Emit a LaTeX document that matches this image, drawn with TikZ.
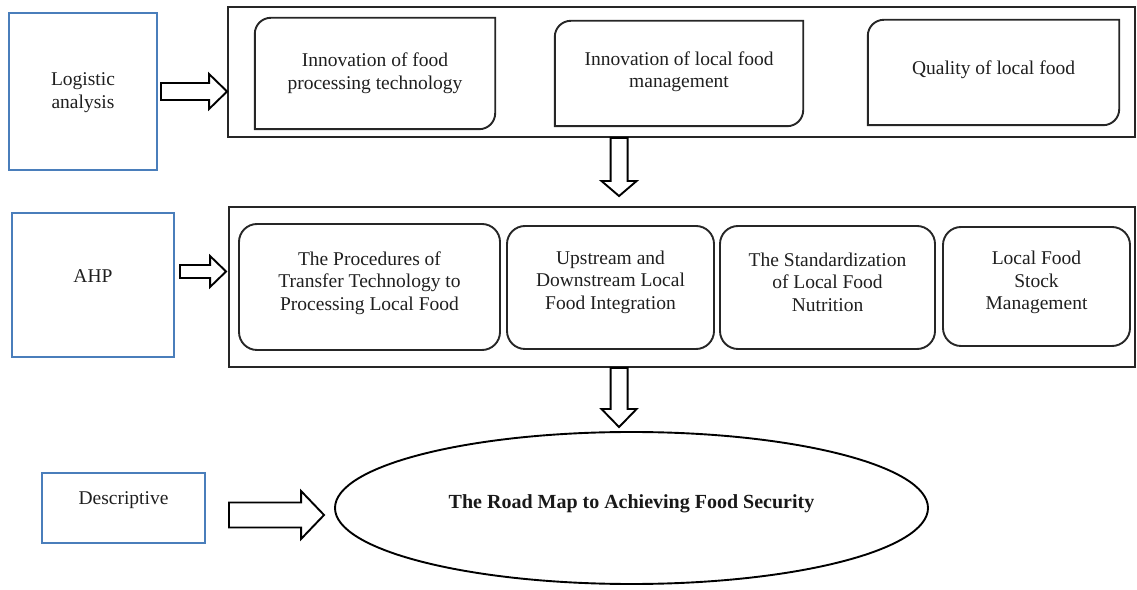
\documentclass[tikz,border=0pt]{standalone}
\usepackage{fontspec}
\setmainfont{Liberation Serif}
\usetikzlibrary{shapes.geometric,calc}
\definecolor{boxblue}{RGB}{74,126,187}
\newcommand{\blkarrowH}[5]{%
  \draw[blockline] let \p1=(#1), \p2=(#2) in
    (\x1,\y1+#3) -- (\x2-#5,\y1+#3) -- (\x2-#5,\y1+#4) -- (\x2,\y1)
    -- (\x2-#5,\y1-#4) -- (\x2-#5,\y1-#3) -- (\x1,\y1-#3) -- cycle;}
\newcommand{\blkarrowV}[5]{%
  \draw[blockline] let \p1=(#1), \p2=(#2) in
    (\x1-#3,\y1) -- (\x1-#3,\y2+#5) -- (\x1-#4,\y2+#5) -- (\x1,\y2)
    -- (\x1+#4,\y2+#5) -- (\x1+#3,\y2+#5) -- (\x1+#3,\y1) -- cycle;}
\begin{document}
\begin{tikzpicture}[x=1pt,y=1pt,
  bluebox/.style={draw=boxblue,line width=1.9pt,inner sep=0pt},
  outerbox/.style={draw=black!85,line width=1.9pt,inner sep=0pt},
  plainshape/.style={draw=none,inner sep=0pt},
  roundbox/.style={draw=black!85,line width=1.9pt,rounded corners=18pt,inner sep=0pt},
  txt/.style={align=center,font=\fontsize{19.5}{22.5}\selectfont,text=black!88,inner sep=0pt},
  boldtxt/.style={font=\fontsize{20}{24}\selectfont\bfseries,text=black!90,inner sep=0pt},
  blockline/.style={draw=black,fill=white,line width=1.9pt,line join=miter},
  edgeline/.style={draw=black!85,line width=1.9pt}]
\useasboundingbox (0,0) rectangle (1137,589);

% ---- row 1
\node[bluebox,minimum width=148,minimum height=157] (log) at (83,497.5) {};
\node[txt] (logt) at (83,496.5) {Logistic\\analysis};
\node[outerbox,minimum width=907,minimum height=130] (top) at (681.5,517) {};
\node[plainshape,minimum width=240,minimum height=111] (b1) at (375,515.5) {};
\node[txt] (b1t) at (375,516) {Innovation of food\\processing technology};
\node[plainshape,minimum width=248,minimum height=105] (b2) at (679,515.5) {};
\node[txt] (b2t) at (679,517.5) {Innovation of local food\\management};
\node[plainshape,minimum width=251,minimum height=105] (b3) at (993.5,516.5) {};
\node[txt] (b3t) at (993.5,519) {Quality of local food};
\foreach \b in {b1,b2,b3}
  \draw[edgeline] (\b.south west) -- ($(\b.north west)+(0,-16)$)
    arc[start angle=180,end angle=90,radius=16] -- (\b.north east)
    -- ($(\b.south east)+(0,16)$) arc[start angle=0,end angle=-90,radius=16] -- cycle;

% ---- row 2
\node[outerbox,minimum width=906,minimum height=160] (mid) at (682,302) {};
\node[bluebox,minimum width=162,minimum height=144] (ahp) at (93,304) {};
\node[txt] (ahpt) at (93,313) {AHP};
\node[roundbox,minimum width=261,minimum height=126] (ba) at (369.5,302) {};
\node[txt] (bat) at (369.5,306) {The Procedures of\\Transfer Technology to\\Processing Local Food};
\node[roundbox,minimum width=207,minimum height=123] (bb) at (610.5,301.5) {};
\node[txt] (bbt) at (610.5,307) {Upstream and\\Downstream Local\\Food Integration};
\node[roundbox,minimum width=215,minimum height=123] (bc) at (827.5,301.5) {};
\node[txt] (bct) at (827.5,307) {The Standardization\\of Local Food\\Nutrition};
\node[roundbox,minimum width=187,minimum height=119] (bd) at (1036.5,302.5) {};
\node[txt] (bdt) at (1036.5,306.5) {Local Food\\Stock\\Management};

% ---- row 3
\node[bluebox,minimum width=163,minimum height=70] (desc) at (123.5,81) {};
\node[txt] (desct) at (123.5,89) {Descriptive};
\node[ellipse,draw=black,line width=1.9pt,minimum width=593,minimum height=152,inner sep=0pt] (ell) at (631.5,81) {};
\node[boldtxt] (ellt) at (631.5,85) {The Road Map to Achieving Food Security};

% ---- block arrows
\coordinate (a1s) at ($(log.east)+(3,0)$);
\coordinate (a1t) at (top.west |- a1s);
\blkarrowH{a1s}{a1t}{8.5pt}{17.5pt}{18pt}

\coordinate (a2s) at ($(ahp.east)+(5,13.5)$);
\coordinate (a2t) at ($(mid.west |- a2s)+(-2,0)$);
\blkarrowH{a2s}{a2t}{6.5pt}{15.5pt}{16pt}

\coordinate (a3s) at ($(desc.east)+(23,-7)$);
\coordinate (a3t) at ($(ell.west)+(-10,-7)$);
\blkarrowH{a3s}{a3t}{12.5pt}{24pt}{23pt}

\coordinate (d1s) at ($(top.south west)+(392,0)$);
\coordinate (d1t) at ($(mid.north west)+(391,10)$);
\blkarrowV{d1s}{d1t}{8.5pt}{17.5pt}{15pt}

\coordinate (d2s) at ($(mid.south west)+(391,0)$);
\coordinate (d2t) at ($(ell.north)+(-11.5,4)$);
\blkarrowV{d2s}{d2t}{8.5pt}{17.5pt}{18pt}
\end{tikzpicture}
\end{document}
